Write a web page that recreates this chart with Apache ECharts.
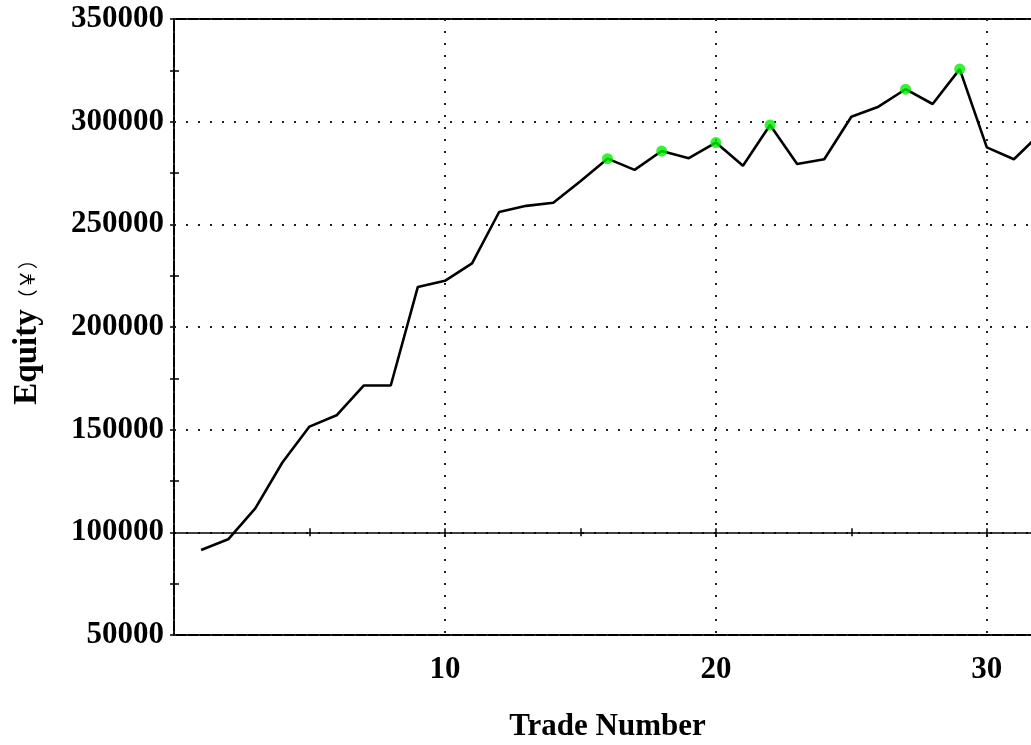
<!DOCTYPE html>
<html>
<head>
<meta charset="utf-8">
<script src="https://cdn.jsdelivr.net/npm/echarts@6/dist/echarts.min.js"></script>
<style>
html,body{margin:0;padding:0;background:#fff;}
#chart{width:1031px;height:745px;}
</style>
</head>
<body>
<div id="chart"></div>
<script>
// ---- data ----
var tradeNumbers = [1,2,3,4,5,6,7,8,9,10,11,12,13,14,15,16,17,18,19,20,21,22,23,24,25,26,27,28,29,30,31,32];
var equity = [91400, 96600, 111700, 134000, 151500, 157000, 171500, 171500, 219500, 222500,
              231000, 256000, 259000, 260500, 271000, 282000, 276500, 285700, 282200, 289800,
              278500, 298400, 279400, 281700, 302400, 307300, 315800, 308600, 325600, 287500,
              281700, 294500];
var peakTrades = [16, 18, 20, 22, 27, 29];
var xTickValues = [10, 20, 30];
var yTickLabels = ['50000','100000','150000','200000','250000','300000','350000'];
var baseEquity = 100000;
var xTitle = 'Trade Number';
var yTitle = 'Equity';
var yUnit = '（￥）';

// ---- build ----
var lineData = tradeNumbers.map(function (t, i) { return [t, equity[i]]; });
var peakData = peakTrades.map(function (t) { return [t, equity[tradeNumbers.indexOf(t)]]; });

var chart = echarts.init(document.getElementById('chart'), null, {renderer: 'canvas'});
var serif = '"Liberation Serif", "Times New Roman", serif';
var gridTop = 19, gridBottom = 110, chartH = 745;
var yMin = 50000, yMax = 350000;
var plotH = chartH - gridTop - gridBottom;
var baseOffset = -((baseEquity - yMin) / (yMax - yMin) * plotH);

var dotted = {color: '#222', width: 2, type: [2, 10]};

var option = {
  backgroundColor: '#fff',
  animation: false,
  grid: {
    left: 174, top: gridTop, right: -10, bottom: gridBottom,
    containLabel: false, outerBoundsMode: 'none',
    show: true, borderColor: '#000', borderWidth: 2, backgroundColor: 'transparent'
  },
  xAxis: [
    { // bottom: labels + dotted vertical grid
      type: 'value', min: 0, max: 32, interval: 10, position: 'bottom',
      axisLine: {show: false}, axisTick: {show: false},
      axisLabel: {
        show: true, margin: 19, color: '#000',
        fontFamily: serif, fontWeight: 'bold', fontSize: 31,
        formatter: function (v) { return xTickValues.indexOf(v) >= 0 ? String(v) : ''; }
      },
      splitLine: {show: true, lineStyle: dotted},
      name: xTitle, nameLocation: 'middle', nameGap: 76,
      nameTextStyle: {color: '#000', fontFamily: serif, fontWeight: 'bold', fontSize: 31}
    },
    { // base equity line with ticks pointing down
      type: 'value', min: 0, max: 32, interval: 5, position: 'bottom', offset: baseOffset,
      axisLine: {show: true, lineStyle: {color: '#000', width: 1.5}},
      axisTick: {show: true, length: 4, inside: false, lineStyle: {color: '#000', width: 1.5}},
      axisLabel: {show: false}, splitLine: {show: false}
    },
    { // ticks pointing up on the base line
      type: 'value', min: 0, max: 32, interval: 5, position: 'bottom', offset: baseOffset,
      axisLine: {show: false},
      axisTick: {show: true, length: 4, inside: true, lineStyle: {color: '#000', width: 1.5}},
      axisLabel: {show: false}, splitLine: {show: false}
    }
  ],
  yAxis: [
    {
      type: 'value', min: yMin, max: yMax, interval: 50000, position: 'left',
      axisLine: {show: false},
      axisTick: {show: true, length: 4, inside: false, lineStyle: {color: '#000', width: 1.5}},
      minorTick: {show: true, splitNumber: 2, length: 4, lineStyle: {color: '#000', width: 1.5}},
      axisLabel: {
        show: true, margin: 10, color: '#000',
        fontFamily: serif, fontWeight: 'bold', fontSize: 31,
        formatter: function (v) { var s = String(v); return yTickLabels.indexOf(s) >= 0 ? s : ''; }
      },
      splitLine: {show: true, lineStyle: dotted},
      name: '{a|' + yTitle + '}{b|' + yUnit + '}',
      nameLocation: 'middle', nameGap: 130, nameRotate: 90,
      nameTextStyle: {
        rich: {
          a: {color: '#000', fontFamily: serif, fontWeight: 'bold', fontSize: 33},
          b: {color: '#000', fontFamily: '"Noto Sans CJK SC", sans-serif', fontWeight: 'normal', fontSize: 20}
        }
      }
    },
    { // inner minor ticks
      type: 'value', min: yMin, max: yMax, interval: 50000, position: 'left',
      axisLine: {show: false},
      axisTick: {show: false, inside: true},
      minorTick: {show: true, splitNumber: 2, length: 5, lineStyle: {color: '#000', width: 1.5}},
      axisLabel: {show: false}, splitLine: {show: false}
    }
  ],
  series: [
    {
      type: 'line', data: lineData, xAxisIndex: 0, yAxisIndex: 0,
      showSymbol: false, symbol: 'none', smooth: false,
      lineStyle: {color: '#000', width: 2.6}, z: 3
    },
    {
      type: 'scatter', data: peakData, xAxisIndex: 0, yAxisIndex: 0,
      symbol: 'circle', symbolSize: 11,
      itemStyle: {color: '#00f000'}, z: 4
    }
  ]
};
chart.setOption(option);
</script>
</body>
</html>
